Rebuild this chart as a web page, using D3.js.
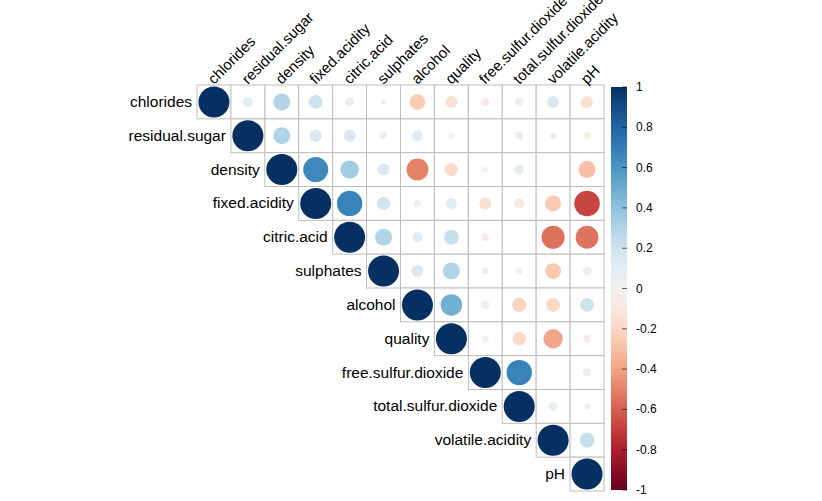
<!DOCTYPE html><html><head><meta charset="utf-8">
<script src="https://cdn.jsdelivr.net/npm/d3@7"></script>
<style>body{margin:0;background:#fff}text{font-family:Arial,"Liberation Sans",sans-serif}</style></head><body>
<svg id="c" width="822" height="501"></svg>
<script>
const vars=["chlorides","residual.sugar","density","fixed.acidity","citric.acid","sulphates","alcohol","quality","free.sulfur.dioxide","total.sulfur.dioxide","volatile.acidity","pH"];
// upper triangle rows (from diagonal rightwards); null = blank
const r0=[1,0.1,0.3,0.2,0.08,0.03,-0.25,-0.15,-0.07,0.07,0.15,-0.15];
const r1=[1,0.3,0.15,0.15,0.05,0.12,-0.03,null,0.07,0.04,-0.05];
const r2=[1,0.65,0.35,0.15,-0.5,-0.18,-0.03,0.1,null,-0.3];
const r3=[1,0.67,0.18,-0.05,0.12,-0.15,-0.1,-0.26,-0.68];
const r4=[1,0.3,0.11,0.23,-0.06,null,-0.55,-0.54];
const r5=[1,0.15,0.3,0.04,0.04,-0.26,-0.08];
const r6=[1,0.48,-0.07,-0.21,-0.2,0.2];
const r7=[1,-0.05,-0.19,-0.39,-0.06];
const r8=[1,0.67,null,0.07];
const r9=[1,0.08,-0.04];
const r10=[1,0.23];
const r11=[1];
const rows=[r0,r1,r2,r3,r4,r5,r6,r7,r8,r9,r10,r11];
const barTicks=[1,0.8,0.6,0.4,0.2,0,-0.2,-0.4,-0.6,-0.8,-1];

const svg=d3.select("#c");
const x=d3.scaleBand().domain(vars).range([197,604]);
const y=d3.scaleBand().domain(vars).range([85,491]);
const col=r=>d3.interpolateRdBu((r+1)/2);
const rad=d3.scaleSqrt().domain([0,1]).range([0,15.5]);
const cells=[];
rows.forEach((row,i)=>row.forEach((v,k)=>cells.push({i,j:i+k,v})));
svg.selectAll("rect.cell").data(cells).join("rect").attr("x",d=>x(vars[d.j])).attr("y",d=>y(vars[d.i]))
 .attr("width",x.bandwidth()).attr("height",y.bandwidth()).attr("fill","white").attr("stroke","#BEBEBE").attr("stroke-width",1);
svg.selectAll("circle").data(cells.filter(d=>d.v!==null)).join("circle")
 .attr("cx",d=>x(vars[d.j])+x.bandwidth()/2).attr("cy",d=>y(vars[d.i])+y.bandwidth()/2)
 .attr("r",d=>rad(Math.abs(d.v))).attr("fill",d=>col(d.v));
svg.selectAll("text.row").data(vars).join("text").attr("x",(d,i)=>x(vars[i])-5).attr("y",d=>y(d)+y.bandwidth()/2+5)
 .attr("text-anchor","end").attr("font-size",15.5).text(d=>d);
svg.selectAll("text.col").data(vars).join("text")
 .attr("transform",d=>`translate(${x(d)+x.bandwidth()/2},${85}) rotate(-45)`).attr("font-size",15).text(d=>d);
// colorbar
const cy=d3.scaleLinear().domain([1,-1]).range([87,490]);
const defs=svg.append("defs");
const g=defs.append("linearGradient").attr("id","g").attr("x1",0).attr("x2",0).attr("y1",0).attr("y2",1);
d3.range(0,21).forEach(k=>{const t=k/20;g.append("stop").attr("offset",t).attr("stop-color",col(1-2*t));});
svg.append("rect").attr("x",611).attr("y",87).attr("width",16).attr("height",403).attr("fill","url(#g)");
svg.selectAll("line.t").data(barTicks).join("line").attr("x1",622).attr("x2",627).attr("y1",d=>cy(d)).attr("y2",d=>cy(d)).attr("stroke","#000").attr("stroke-width",0.6);
svg.selectAll("text.t").data(barTicks).join("text").attr("x",636).attr("y",d=>cy(d)+4).attr("font-size",12).text(d=>d);
</script></body></html>
